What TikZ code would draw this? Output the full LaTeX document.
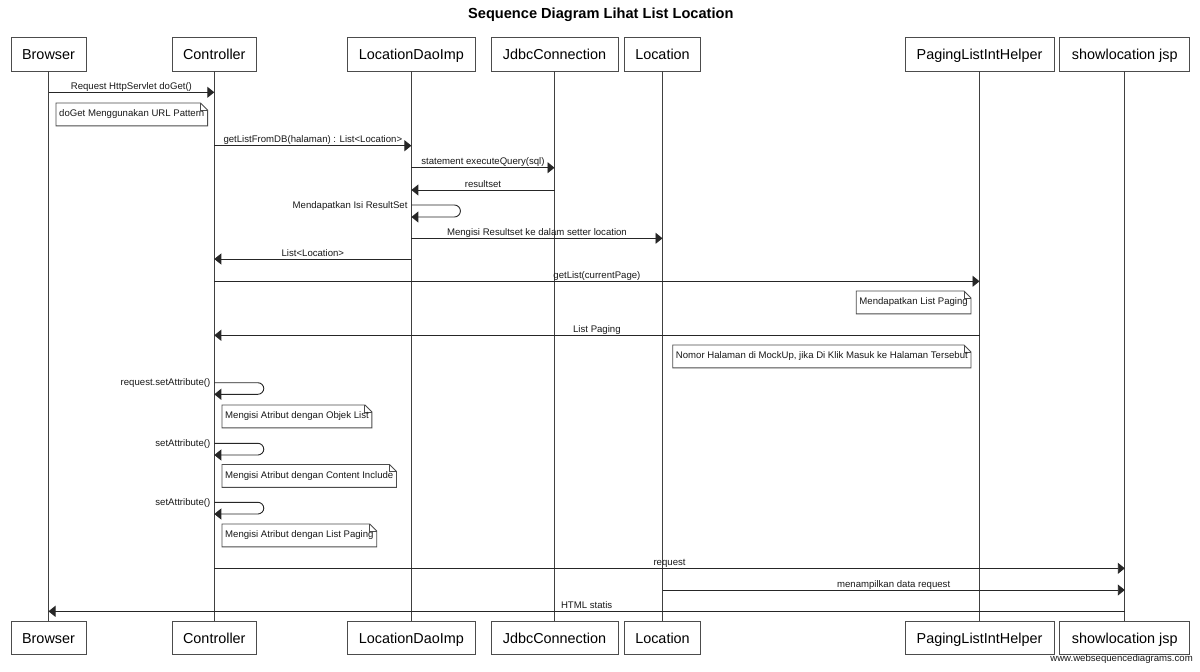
\documentclass[tikz,border=0pt]{standalone}
\usepackage{fontspec}
\setmainfont{Liberation Sans}
\usetikzlibrary{arrows.meta}
\newcommand{\msgfont}{\fontsize{9.6}{11}\selectfont}
\tikzset{
  actor/.style={draw=black!70, line width=0.9pt, inner sep=0pt, fill=white,
    text height=11.6pt, text depth=0pt,
    font=\fontsize{14.4}{16}\selectfont},
  life/.style={draw=black!75, line width=0.9pt},
  msg/.style={draw=black!85, line width=0.9pt, -{Triangle[length=7pt,width=11pt]}},
  lbl/.style={anchor=base, inner sep=0pt, yshift=3pt, font=\msgfont, text=black!90},
  slbl/.style={anchor=base east, inner sep=0pt, xshift=-3.5pt, yshift=-3pt, font=\msgfont, text=black!90},
  notedraw/.style={draw=black!70, line width=0.9pt},
  note/.style={anchor=north west, inner xsep=3pt, inner ysep=0pt, minimum height=22.5pt,
    font=\msgfont, text=black!90,
    append after command={\pgfextra{
      \draw[notedraw] (\tikzlastnode.north west) -- ([xshift=-7pt]\tikzlastnode.north east)
        -- ([yshift=-7pt]\tikzlastnode.north east) -- (\tikzlastnode.south east)
        -- (\tikzlastnode.south west) -- cycle;
      \draw[notedraw] ([xshift=-7pt]\tikzlastnode.north east) |- ([yshift=-7pt]\tikzlastnode.north east);
    }}}
}
\begin{document}
\begin{tikzpicture}[x=1pt, y=-1pt]
\fill[white] (0,0) rectangle (1200,672);
\useasboundingbox (0,0) rectangle (1200,672);

\node[anchor=base, font=\bfseries\fontsize{14.6}{16}\selectfont] (title) at (600.8,18.7) {Sequence Diagram Lihat List Location};

% top participants
\node[actor, minimum width=75pt,  minimum height=34pt] (pB)  at (48.5,54)  {Browser};
\node[actor, minimum width=84pt,  minimum height=34pt] (pC)  at (214.3,54) {Controller};
\node[actor, minimum width=127.5pt,minimum height=34pt] (pL) at (411.4,54) {LocationDaoImp};
\node[actor, minimum width=127pt, minimum height=34pt] (pJ)  at (554.5,54) {JdbcConnection};
\node[actor, minimum width=76pt,  minimum height=34pt] (pLo) at (662.5,54) {Location};
\node[actor, minimum width=149pt, minimum height=34pt] (pP)  at (979.5,54) {PagingListIntHelper};
\node[actor, minimum width=130pt, minimum height=34pt] (pS)  at (1124.8,54) {showlocation jsp};

% bottom participants
\node[actor, minimum width=75pt,  minimum height=33pt] (qB)  at (48.5,637.5)  {Browser};
\node[actor, minimum width=84pt,  minimum height=33pt] (qC)  at (214.3,637.5) {Controller};
\node[actor, minimum width=127.5pt,minimum height=33pt] (qL) at (411.4,637.5) {LocationDaoImp};
\node[actor, minimum width=127pt, minimum height=33pt] (qJ)  at (554.5,637.5) {JdbcConnection};
\node[actor, minimum width=76pt,  minimum height=33pt] (qLo) at (662.5,637.5) {Location};
\node[actor, minimum width=149pt, minimum height=33pt] (qP)  at (979.5,637.5) {PagingListIntHelper};
\node[actor, minimum width=130pt, minimum height=33pt] (qS)  at (1124.8,637.5) {showlocation jsp};

% lifelines
\draw[life] (pB) -- (qB);
\draw[life] (pC) -- (qC);
\draw[life] (pL) -- (qL);
\draw[life] (pJ) -- (qJ);
\draw[life] (pLo) -- (qLo);
\draw[life] (pP) -- (qP);
\draw[life] (pS) -- (qS);

% messages
\draw[msg] (pB |- 0,92.3) -- node[lbl]{Request HttpServlet doGet()} (pC |- 0,92.3);
\node[note] (n1) at (56,103) {doGet Menggunakan URL Pattern};
\draw[msg] (pC |- 0,145.7) -- node[lbl]{getListFromDB(halaman) : List<Location>} (pL |- 0,145.7);
\draw[msg] (pL |- 0,167.7) -- node[lbl]{statement executeQuery(sql)} (pJ |- 0,167.7);
\draw[msg] (pJ |- 0,190) -- node[lbl]{resultset} (pL |- 0,190);
\draw[msg, rounded corners=6pt] (pL |- 0,205) node[slbl]{Mendapatkan Isi ResultSet}
  -- ++(49,0) -- ++(0,12) -- (pL |- 0,217);
\draw[msg] (pL |- 0,238.3) -- node[lbl]{Mengisi Resultset ke dalam setter location} (pLo |- 0,238.3);
\draw[msg] (pL |- 0,259) -- node[lbl]{List<Location>} (pC |- 0,259);
\draw[msg] (pC |- 0,281.3) -- node[lbl]{getList(currentPage)} (pP |- 0,281.3);
\node[note, anchor=north east] (n2) at (971,291) {Mendapatkan List Paging};
\draw[msg] (pP |- 0,335.3) -- node[lbl]{List Paging} (pC |- 0,335.3);
\node[note, anchor=north east] (n3) at (971,345) {Nomor Halaman di MockUp, jika Di Klik Masuk ke Halaman Tersebut};
\draw[msg, rounded corners=6pt] (pC |- 0,382.7) node[slbl]{request.setAttribute()}
  -- ++(49.5,0) -- ++(0,11.6) -- (pC |- 0,394.3);
\node[note] (n4) at (222,405) {Mengisi Atribut dengan Objek List};
\draw[msg, rounded corners=6pt] (pC |- 0,443.3) node[slbl]{setAttribute()}
  -- ++(49.5,0) -- ++(0,11.7) -- (pC |- 0,455);
\node[note] (n5) at (222,464.5) {Mengisi Atribut dengan Content Include};
\draw[msg, rounded corners=6pt] (pC |- 0,502.3) node[slbl]{setAttribute()}
  -- ++(49.5,0) -- ++(0,11.7) -- (pC |- 0,514);
\node[note] (n6) at (222,524) {Mengisi Atribut dengan List Paging};
\draw[msg] (pC |- 0,568.3) -- node[lbl]{request} (pS |- 0,568.3);
\draw[msg] (pLo |- 0,590) -- node[lbl]{menampilkan data request} (pS |- 0,590);
\draw[msg] (pS |- 0,611.3) -- node[lbl]{HTML statis} (pB |- 0,611.3);

\node[anchor=base east, inner sep=0pt, font=\msgfont, text=black!90] (wm) at (1193,661.5) {www.websequencediagrams.com};
\end{tikzpicture}
\end{document}
